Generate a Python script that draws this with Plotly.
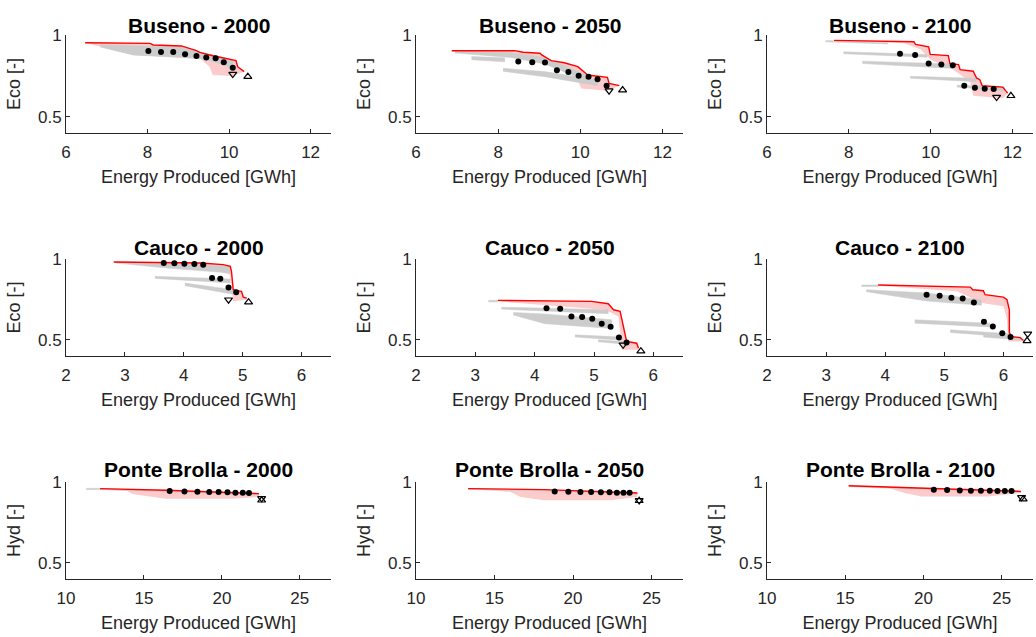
import plotly.graph_objects as go
from plotly.subplots import make_subplots

# ---------------- data ----------------
# Buseno - 2000
bus00_front_x = [6.47, 8.06, 8.14, 8.83, 9.20, 9.28, 9.60, 10.17, 10.21, 10.37]
bus00_front_y = [0.953, 0.949, 0.939, 0.933, 0.904, 0.894, 0.873, 0.843, 0.806, 0.776]
bus00_low_x = [6.47, 6.84, 7.65, 9.28, 9.52, 9.60, 10.09, 10.37]
bus00_low_y = [0.953, 0.929, 0.876, 0.857, 0.806, 0.755, 0.749, 0.776]
bus00_gray = [
    ([6.84, 7.65, 8.10, 8.83, 9.40, 9.90, 10.09],
     [0.940, 0.935, 0.930, 0.925, 0.890, 0.860, 0.840],
     [0.926, 0.878, 0.872, 0.862, 0.852, 0.815, 0.785]),
]
bus00_dots_x = [8.02, 8.33, 8.63, 8.92, 9.20, 9.44, 9.67, 9.87, 10.09]
bus00_dots_y = [0.902, 0.896, 0.896, 0.882, 0.871, 0.863, 0.857, 0.833, 0.800]
bus00_tri_down = [10.09, 0.761]
bus00_tri_up = [10.46, 0.745]

# Buseno - 2050
bus50_front_x = [6.87, 8.40, 8.61, 9.02, 9.06, 9.29, 9.61, 9.94, 10.18, 10.66, 10.70, 10.95]
bus50_front_y = [0.904, 0.904, 0.894, 0.888, 0.878, 0.843, 0.830, 0.806, 0.755, 0.741, 0.704, 0.690]
bus50_low_x = [6.87, 8.32, 9.53, 9.94, 10.02, 10.66, 10.95]
bus50_low_y = [0.904, 0.873, 0.806, 0.724, 0.673, 0.659, 0.690]
bus50_gray = [
    ([6.95, 8.32, 9.13, 10.10], [0.902, 0.892, 0.863, 0.761], [0.890, 0.862, 0.822, 0.725]),
    ([7.35, 8.16], [0.868, 0.860], [0.848, 0.836]),
    ([8.12, 9.13, 10.42], [0.796, 0.776, 0.724], [0.778, 0.745, 0.690]),
]
bus50_dots_x = [8.49, 8.83, 9.14, 9.43, 9.71, 9.96, 10.20, 10.42, 10.64]
bus50_dots_y = [0.837, 0.833, 0.831, 0.784, 0.773, 0.751, 0.745, 0.729, 0.690]
bus50_tri_down = [10.70, 0.659]
bus50_tri_up = [11.03, 0.663]

# Buseno - 2100
bus21_front_x = [7.64, 9.59, 9.63, 9.95, 9.99, 10.43, 10.47, 10.68, 10.72, 11.04, 11.12, 11.20, 11.26, 11.76, 11.88]
bus21_front_y = [0.967, 0.959, 0.942, 0.928, 0.881, 0.874, 0.825, 0.819, 0.788, 0.778, 0.737, 0.726, 0.689, 0.681, 0.644]
bus21_low_x = [7.64, 9.35, 9.75, 9.99, 10.55, 10.96, 11.04, 11.76, 11.88]
bus21_low_y = [0.963, 0.949, 0.912, 0.850, 0.788, 0.716, 0.628, 0.613, 0.644]
bus21_gray = [
    ([7.43, 8.95], [0.967, 0.953], [0.958, 0.945]),
    ([7.87, 9.91], [0.897, 0.881], [0.885, 0.864]),
    ([8.33, 10.55], [0.840, 0.823], [0.825, 0.795]),
    ([9.50, 11.12], [0.747, 0.735], [0.735, 0.714]),
    ([10.64, 11.80], [0.693, 0.681], [0.681, 0.658]),
]
bus21_dots_x = [9.25, 9.62, 9.95, 10.26, 10.54, 10.82, 11.08, 11.32, 11.54]
bus21_dots_y = [0.885, 0.877, 0.825, 0.819, 0.815, 0.689, 0.677, 0.671, 0.669]
bus21_tri_down = [11.61, 0.620]
bus21_tri_up = [11.96, 0.628]

# Cauco - 2000
cau00_front_x = [2.81, 4.28, 4.67, 4.79, 4.81, 4.84, 4.90, 4.98, 5.01, 5.07]
cau00_front_y = [0.981, 0.975, 0.965, 0.955, 0.924, 0.810, 0.804, 0.800, 0.764, 0.758]
cau00_low_x = [2.81, 3.71, 4.50, 4.79, 4.81, 4.84, 5.07]
cau00_low_y = [0.981, 0.950, 0.934, 0.903, 0.830, 0.738, 0.748]
cau00_gray = [
    ([2.84, 3.71, 4.79], [0.981, 0.975, 0.955], [0.975, 0.944, 0.913]),
    ([3.51, 4.79], [0.893, 0.876], [0.880, 0.852]),
    ([4.02, 4.84], [0.851, 0.810], [0.835, 0.782]),
]
cau00_dots_x = [3.66, 3.84, 4.01, 4.18, 4.33, 4.48, 4.62, 4.76, 4.89]
cau00_dots_y = [0.975, 0.973, 0.971, 0.969, 0.965, 0.882, 0.878, 0.824, 0.795]
cau00_tri_down = [4.76, 0.748]
cau00_tri_up = [5.10, 0.733]

# Cauco - 2050
cau50_front_x = [3.38, 4.96, 5.24, 5.33, 5.44, 5.49, 5.55, 5.72, 5.75]
cau50_front_y = [0.744, 0.738, 0.723, 0.686, 0.676, 0.593, 0.490, 0.479, 0.448]
cau50_low_x = [3.38, 4.17, 5.19, 5.41, 5.47, 5.75]
cau50_low_y = [0.738, 0.717, 0.686, 0.645, 0.438, 0.438]
cau50_gray = [
    ([3.22, 3.38], [0.744, 0.744], [0.735, 0.735]),
    ([3.44, 5.24], [0.702, 0.686], [0.690, 0.662]),
    ([3.64, 4.17, 5.30], [0.669, 0.660, 0.624], [0.653, 0.600, 0.570]),
    ([4.68, 5.47], [0.531, 0.517], [0.517, 0.498]),
    ([5.07, 5.58], [0.500, 0.486], [0.488, 0.471]),
]
cau50_dots_x = [4.20, 4.43, 4.62, 4.80, 4.97, 5.13, 5.28, 5.42, 5.55]
cau50_dots_y = [0.696, 0.692, 0.645, 0.641, 0.630, 0.599, 0.581, 0.514, 0.483]
cau50_tri_down = [5.49, 0.469]
cau50_tri_up = [5.79, 0.430]

# Cauco - 2100
cau21_front_x = [3.88, 5.44, 5.48, 5.66, 5.69, 6.00, 6.06, 6.10, 6.10, 6.14, 6.28, 6.34]
cau21_front_y = [0.839, 0.826, 0.810, 0.804, 0.779, 0.764, 0.748, 0.686, 0.545, 0.520, 0.514, 0.496]
cau21_low_x = [3.88, 5.21, 5.66, 6.00, 6.06, 6.08, 6.34]
cau21_low_y = [0.835, 0.800, 0.727, 0.707, 0.624, 0.490, 0.490]
cau21_gray = [
    ([3.60, 3.88], [0.839, 0.839], [0.830, 0.830]),
    ([3.68, 4.70, 5.63], [0.810, 0.790, 0.748], [0.798, 0.740, 0.714]),
    ([4.50, 5.77], [0.624, 0.603], [0.603, 0.580]),
    ([5.10, 6.11], [0.562, 0.537], [0.545, 0.518]),
    ([5.66, 6.31], [0.531, 0.517], [0.517, 0.498]),
]
cau21_dots_x = [4.70, 4.92, 5.12, 5.31, 5.50, 5.67, 5.82, 5.98, 6.12]
cau21_dots_y = [0.779, 0.773, 0.760, 0.756, 0.731, 0.612, 0.583, 0.541, 0.517]
cau21_tri_down = [6.41, 0.537]
cau21_tri_up = [6.40, 0.494]

# Ponte Brolla - 2000
pb00_front_x = [12.19, 16.43, 22.38]
pb00_front_y = [0.959, 0.949, 0.928]
pb00_low_x = [12.19, 13.89, 14.31, 16.43, 20.68, 22.38]
pb00_low_y = [0.959, 0.944, 0.924, 0.897, 0.897, 0.907]
pb00_gray = [
    ([11.30, 12.19], [0.961, 0.961], [0.953, 0.953]),
    ([12.19, 16.43, 22.38], [0.957, 0.947, 0.926], [0.952, 0.940, 0.918]),
]
pb00_dots_x = [16.65, 17.60, 18.43, 19.19, 19.79, 20.36, 20.87, 21.34, 21.74]
pb00_dots_y = [0.944, 0.942, 0.940, 0.938, 0.938, 0.936, 0.934, 0.934, 0.932]
pb00_tri_down = [22.55, 0.899]
pb00_tri_up = [22.55, 0.887]

# Ponte Brolla - 2050
pb50_front_x = [13.32, 18.15, 24.10]
pb50_front_y = [0.959, 0.953, 0.932]
pb50_low_x = [13.32, 16.02, 16.66, 18.15, 22.40, 24.10]
pb50_low_y = [0.959, 0.938, 0.907, 0.887, 0.887, 0.907]
pb50_gray = [
    ([13.32, 18.15, 24.10], [0.957, 0.951, 0.930], [0.953, 0.945, 0.924]),
]
pb50_dots_x = [18.83, 19.70, 20.47, 21.15, 21.77, 22.32, 22.79, 23.21, 23.60]
pb50_dots_y = [0.942, 0.940, 0.938, 0.938, 0.936, 0.936, 0.934, 0.934, 0.934]
pb50_tri_down = [24.21, 0.886]
pb50_tri_up = [24.21, 0.884]

# Ponte Brolla - 2100
pb21_front_x = [15.22, 19.87, 26.23]
pb21_front_y = [0.977, 0.963, 0.942]
pb21_low_x = [15.22, 17.74, 18.80, 19.87, 24.14, 26.23]
pb21_low_y = [0.977, 0.963, 0.932, 0.911, 0.911, 0.932]
pb21_gray = [
    ([15.22, 19.87, 26.23], [0.975, 0.961, 0.940], [0.970, 0.955, 0.934]),
]
pb21_dots_x = [20.66, 21.51, 22.32, 23.03, 23.67, 24.24, 24.73, 25.20, 25.63]
pb21_dots_y = [0.952, 0.950, 0.948, 0.946, 0.946, 0.946, 0.944, 0.944, 0.944]
pb21_tri_down = [26.27, 0.905]
pb21_tri_up = [26.37, 0.894]

titles = ["Buseno - 2000", "Buseno - 2050", "Buseno - 2100",
          "Cauco - 2000", "Cauco - 2050", "Cauco - 2100",
          "Ponte Brolla - 2000", "Ponte Brolla - 2050", "Ponte Brolla - 2100"]
row_ylabels = ["Eco [-]", "Eco [-]", "Hyd [-]"]
row_xranges = [[6, 12.5], [2, 6.5], [10, 27]]
row_xticks = [[6, 8, 10, 12], [2, 3, 4, 5, 6], [10, 15, 20, 25]]
y_ticks = [0.5, 1]
x_label = "Energy Produced [GWh]"

panels = [
    (bus00_front_x, bus00_front_y, bus00_low_x, bus00_low_y, bus00_gray, bus00_dots_x, bus00_dots_y, bus00_tri_down, bus00_tri_up),
    (bus50_front_x, bus50_front_y, bus50_low_x, bus50_low_y, bus50_gray, bus50_dots_x, bus50_dots_y, bus50_tri_down, bus50_tri_up),
    (bus21_front_x, bus21_front_y, bus21_low_x, bus21_low_y, bus21_gray, bus21_dots_x, bus21_dots_y, bus21_tri_down, bus21_tri_up),
    (cau00_front_x, cau00_front_y, cau00_low_x, cau00_low_y, cau00_gray, cau00_dots_x, cau00_dots_y, cau00_tri_down, cau00_tri_up),
    (cau50_front_x, cau50_front_y, cau50_low_x, cau50_low_y, cau50_gray, cau50_dots_x, cau50_dots_y, cau50_tri_down, cau50_tri_up),
    (cau21_front_x, cau21_front_y, cau21_low_x, cau21_low_y, cau21_gray, cau21_dots_x, cau21_dots_y, cau21_tri_down, cau21_tri_up),
    (pb00_front_x, pb00_front_y, pb00_low_x, pb00_low_y, pb00_gray, pb00_dots_x, pb00_dots_y, pb00_tri_down, pb00_tri_up),
    (pb50_front_x, pb50_front_y, pb50_low_x, pb50_low_y, pb50_gray, pb50_dots_x, pb50_dots_y, pb50_tri_down, pb50_tri_up),
    (pb21_front_x, pb21_front_y, pb21_low_x, pb21_low_y, pb21_gray, pb21_dots_x, pb21_dots_y, pb21_tri_down, pb21_tri_up),
]

# ---------------- layout (pixel geometry) ----------------
W, H = 1036, 637
col_px = [(66, 331), (416, 683), (767, 1033)]
row_px = [(35, 133), (259, 356), (482, 579)]
title_px = [25, 247, 469]

PINK = "#fccccc"
GRAY = "#cccccc"
RED = "#ff0000"
AX = "#262626"
FONT = "Liberation Sans, Arial, sans-serif"

fig = make_subplots(rows=3, cols=3)

for i, p in enumerate(panels):
    fx, fy, lx, ly, gray, dx, dy, td, tu = p
    r, c = i // 3 + 1, i % 3 + 1
    # pink band below the front
    fig.add_trace(go.Scatter(x=list(fx) + list(lx)[::-1], y=list(fy) + list(ly)[::-1],
                             fill="toself", fillcolor=PINK, mode="lines",
                             line=dict(width=0, color=PINK), hoverinfo="skip",
                             showlegend=False), row=r, col=c)
    # gray bands
    for gx, gt, gb in gray:
        fig.add_trace(go.Scatter(x=list(gx) + list(gx)[::-1], y=list(gt) + list(gb)[::-1],
                                 fill="toself", fillcolor=GRAY, mode="lines",
                                 line=dict(width=0.5, color=GRAY), hoverinfo="skip",
                                 showlegend=False), row=r, col=c)
    # red front
    fig.add_trace(go.Scatter(x=fx, y=fy, mode="lines", line=dict(color=RED, width=1.4),
                             showlegend=False), row=r, col=c)
    # black dots
    fig.add_trace(go.Scatter(x=dx, y=dy, mode="markers",
                             marker=dict(color="black", size=6), showlegend=False), row=r, col=c)
    # triangles
    fig.add_trace(go.Scatter(x=[td[0]], y=[td[1]], mode="markers",
                             marker=dict(symbol="triangle-down-open", color="black", size=7,
                                         line=dict(width=1.2)), showlegend=False), row=r, col=c)
    fig.add_trace(go.Scatter(x=[tu[0]], y=[tu[1]], mode="markers",
                             marker=dict(symbol="triangle-up-open", color="black", size=7,
                                         line=dict(width=1.2)), showlegend=False), row=r, col=c)

for i in range(9):
    r, c = i // 3, i % 3
    n = i + 1
    xs = "xaxis" if n == 1 else f"xaxis{n}"
    ys = "yaxis" if n == 1 else f"yaxis{n}"
    x0, x1 = col_px[c]
    y0, y1 = row_px[r]
    fig.layout[xs].update(
        domain=[x0 / W, x1 / W], range=row_xranges[r], tickvals=row_xticks[r],
        showline=True, linecolor=AX, linewidth=1, ticks="inside", ticklen=4,
        tickcolor=AX, showgrid=False, zeroline=False, automargin=False,
        ticklabelstandoff=4,
        tickfont=dict(size=17, color=AX, family=FONT),
        title=dict(text=x_label, font=dict(size=18, color=AX, family=FONT), standoff=8),
    )
    fig.layout[ys].update(
        domain=[1 - y1 / H, 1 - y0 / H], range=[0.4, 1.0], tickvals=y_ticks,
        ticktext=["0.5", "1"],
        showline=True, linecolor=AX, linewidth=1, ticks="inside", ticklen=4,
        tickcolor=AX, showgrid=False, zeroline=False, automargin=False,
        tickfont=dict(size=17, color=AX, family=FONT),
        title=dict(text=row_ylabels[r], font=dict(size=18, color=AX, family=FONT), standoff=12),
    )
    fig.add_annotation(text=f"<b>{titles[i]}</b>", xref="paper", yref="paper",
                       x=(x0 + x1) / 2 / W, y=1 - title_px[r] / H,
                       xanchor="center", yanchor="middle", showarrow=False,
                       font=dict(size=21, color="black", family=FONT))

fig.update_layout(width=W, height=H, margin=dict(l=0, r=0, t=0, b=0),
                  paper_bgcolor="white", plot_bgcolor="white")

fig.write_html("out.html")
